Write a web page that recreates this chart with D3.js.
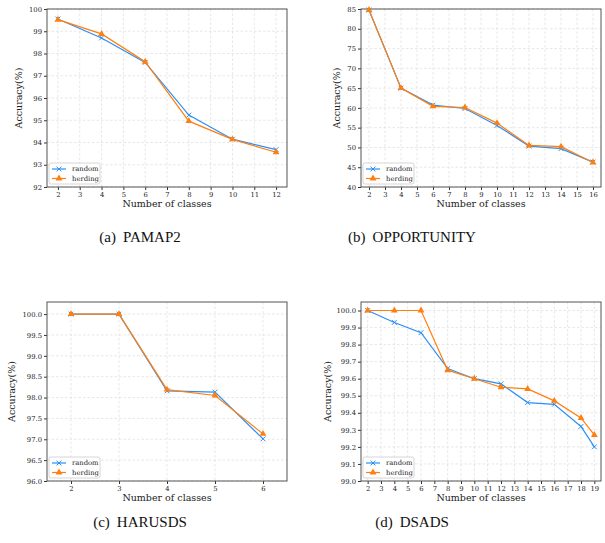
<!DOCTYPE html>
<html>
<head>
<meta charset="utf-8">
<script src="https://cdn.jsdelivr.net/npm/d3@7"></script>
<style>
body { margin: 0; background: #fff; }
.tick text { font-family: "DejaVu Serif", serif; font-size: 6.8px; fill: #222; }
.tick line { stroke: #333; }
.grid { stroke: #ddd; stroke-width: 0.7; stroke-dasharray: 2.5,2; }
.axisLabel { font-family: "DejaVu Serif", serif; font-size: 9.5px; fill: #222; }
.legendText { font-family: "DejaVu Serif", serif; font-size: 6.8px; fill: #222; }
.caption { font-family: "Liberation Serif", serif; font-size: 15px; fill: #111; }
</style>
</head>
<body>
<svg id="chart" width="605" height="543"></svg>
<script>
// (a) PAMAP2
const pamapClasses = [2, 4, 6, 8, 10, 12];
const pamapRandom = [99.55, 98.70, 97.60, 95.23, 94.15, 93.68];
const pamapHerding = [99.52, 98.88, 97.63, 94.96, 94.14, 93.56];
const pamapXTicks = [2, 3, 4, 5, 6, 7, 8, 9, 10, 11, 12];
const pamapYTicks = [92, 93, 94, 95, 96, 97, 98, 99, 100];

// (b) OPPORTUNITY
const oppClasses = [2, 4, 6, 8, 10, 12, 14, 16];
const oppRandom = [84.75, 65.0, 60.7, 59.85, 55.56, 50.35, 49.7, 46.3];
const oppHerding = [84.75, 65.0, 60.4, 60.1, 56.15, 50.5, 50.2, 46.2];
const oppXTicks = [2, 3, 4, 5, 6, 7, 8, 9, 10, 11, 12, 13, 14, 15, 16];
const oppYTicks = [40, 45, 50, 55, 60, 65, 70, 75, 80, 85];

// (c) HARUSDS
const harClasses = [2, 3, 4, 5, 6];
const harRandom = [100.0, 100.0, 98.16, 98.13, 97.01];
const harHerding = [100.0, 100.0, 98.19, 98.05, 97.13];
const harXTicks = [2, 3, 4, 5, 6];
const harYTicks = [96.0, 96.5, 97.0, 97.5, 98.0, 98.5, 99.0, 99.5, 100.0];

// (d) DSADS
const dsadsClasses = [2, 4, 6, 8, 10, 12, 14, 16, 18, 19];
const dsadsRandom = [100.0, 99.93, 99.87, 99.66, 99.60, 99.57, 99.46, 99.45, 99.32, 99.20];
const dsadsHerding = [100.0, 100.0, 100.0, 99.65, 99.60, 99.55, 99.54, 99.47, 99.37, 99.27];
const dsadsXTicks = d3.range(2, 20);
const dsadsYTicks = [99.0, 99.1, 99.2, 99.3, 99.4, 99.5, 99.6, 99.7, 99.8, 99.9, 100.0];

const seriesNames = ["random", "herding"];
const seriesColors = ["#2b8ff5", "#ff7f0e"];

const svg = d3.select("#chart");

function drawMarker(sel, i, color) {
    if (i === 0) {
        sel.append("path")
            .attr("d", "M-2.4,-2.4L2.4,2.4M-2.4,2.4L2.4,-2.4")
            .attr("stroke", color)
            .attr("stroke-width", 1)
            .attr("fill", "none");
    } else {
        sel.append("path")
            .attr("d", d3.symbol().type(d3.symbolTriangle).size(20)())
            .attr("fill", color);
    }
}

function drawPanel(cfg) {
    let g = svg.append("g");
    let x = d3.scaleLinear().domain(cfg.xDomain).range([cfg.left, cfg.right]);
    let y = d3.scaleLinear().domain(cfg.yDomain).range([cfg.bottom, cfg.top]);

    //grid
    g.append("g").selectAll("line")
        .data(cfg.xTicks)
        .enter()
        .append("line")
        .attr("class", "grid")
        .attr("x1", d => x(d)).attr("x2", d => x(d))
        .attr("y1", cfg.top).attr("y2", cfg.bottom);
    g.append("g").selectAll("line")
        .data(cfg.yTicks)
        .enter()
        .append("line")
        .attr("class", "grid")
        .attr("x1", cfg.left).attr("x2", cfg.right)
        .attr("y1", d => y(d)).attr("y2", d => y(d));

    //axes
    g.append("g")
        .attr("transform", "translate(0," + cfg.bottom + ")")
        .call(d3.axisBottom(x).tickValues(cfg.xTicks).tickFormat(d3.format("d")).tickSize(3).tickPadding(2))
        .call(a => a.select(".domain").remove());
    g.append("g")
        .attr("transform", "translate(" + cfg.left + ",0)")
        .call(d3.axisLeft(y).tickValues(cfg.yTicks).tickFormat(d3.format(cfg.yFormat)).tickSize(3).tickPadding(2))
        .call(a => a.select(".domain").remove());

    //frame
    g.append("rect")
        .attr("x", cfg.left).attr("y", cfg.top)
        .attr("width", cfg.right - cfg.left)
        .attr("height", cfg.bottom - cfg.top)
        .attr("fill", "none")
        .attr("stroke", "#555")
        .attr("stroke-width", 1);

    //lines and markers
    let line = d3.line().x(d => x(d[0])).y(d => y(d[1]));
    cfg.series.forEach(function (vals, i) {
        let pts = cfg.classes.map((c, j) => [c, vals[j]]);
        g.append("path")
            .datum(pts)
            .attr("d", line)
            .attr("fill", "none")
            .attr("stroke", seriesColors[i])
            .attr("stroke-width", 1.2);
        g.append("g").selectAll("g")
            .data(pts)
            .enter()
            .append("g")
            .attr("transform", d => "translate(" + x(d[0]) + "," + y(d[1]) + ")")
            .each(function () { drawMarker(d3.select(this), i, seriesColors[i]); });
    });

    //legend
    let lx = cfg.left + 2, ly = cfg.bottom - 24;
    let leg = g.append("g").attr("transform", "translate(" + lx + "," + ly + ")");
    leg.append("rect")
        .attr("width", 51).attr("height", 21)
        .attr("rx", 2)
        .attr("fill", "#fff").attr("fill-opacity", 0.85)
        .attr("stroke", "#ccc").attr("stroke-width", 0.8);
    seriesNames.forEach(function (name, i) {
        let yy = 6 + i * 9.5;
        leg.append("line")
            .attr("x1", 3).attr("x2", 17)
            .attr("y1", yy).attr("y2", yy)
            .attr("stroke", seriesColors[i])
            .attr("stroke-width", 1.2);
        let m = leg.append("g").attr("transform", "translate(10," + yy + ")");
        drawMarker(m, i, seriesColors[i]);
        leg.append("text")
            .attr("class", "legendText")
            .attr("x", 23).attr("y", yy + 2.3)
            .text(name);
    });

    //axis labels
    g.append("text")
        .attr("class", "axisLabel")
        .attr("x", (cfg.left + cfg.right) / 2)
        .attr("y", cfg.bottom + 20)
        .attr("text-anchor", "middle")
        .text("Number of classes");
    g.append("text")
        .attr("class", "axisLabel")
        .attr("transform", "translate(" + cfg.yLabelX + "," + (cfg.top + cfg.bottom) / 2 + ") rotate(-90)")
        .attr("text-anchor", "middle")
        .text("Accuracy(%)");

    //caption
    let cap = svg.append("text")
        .attr("class", "caption")
        .attr("x", cfg.capX).attr("y", cfg.capY)
        .attr("text-anchor", "middle");
    cap.append("tspan").text(cfg.capTag);
    cap.append("tspan").attr("dx", 7).text(cfg.capName);
}

drawPanel({
    left: 47, right: 287, top: 9, bottom: 187,
    xDomain: [1.5, 12.5], yDomain: [92, 100],
    xTicks: pamapXTicks, yTicks: pamapYTicks, yFormat: "d",
    classes: pamapClasses, series: [pamapRandom, pamapHerding],
    yLabelX: 22, capX: 140, capY: 242, capTag: "(a)", capName: "PAMAP2"
});
drawPanel({
    left: 361, right: 601, top: 9, bottom: 187,
    xDomain: [1.5, 16.5], yDomain: [40, 85],
    xTicks: oppXTicks, yTicks: oppYTicks, yFormat: "d",
    classes: oppClasses, series: [oppRandom, oppHerding],
    yLabelX: 340, capX: 412, capY: 242, capTag: "(b)", capName: "OPPORTUNITY"
});
drawPanel({
    left: 47, right: 287, top: 302, bottom: 481,
    xDomain: [1.5, 6.5], yDomain: [96, 100.29],
    xTicks: harXTicks, yTicks: harYTicks, yFormat: ".1f",
    classes: harClasses, series: [harRandom, harHerding],
    yLabelX: 15, capX: 140, capY: 527, capTag: "(c)", capName: "HARUSDS"
});
drawPanel({
    left: 361, right: 601, top: 302, bottom: 481,
    xDomain: [1.5, 19.5], yDomain: [99, 100.05],
    xTicks: dsadsXTicks, yTicks: dsadsYTicks, yFormat: ".1f",
    classes: dsadsClasses, series: [dsadsRandom, dsadsHerding],
    yLabelX: 331, capX: 412, capY: 527, capTag: "(d)", capName: "DSADS"
});
</script>
</body>
</html>
